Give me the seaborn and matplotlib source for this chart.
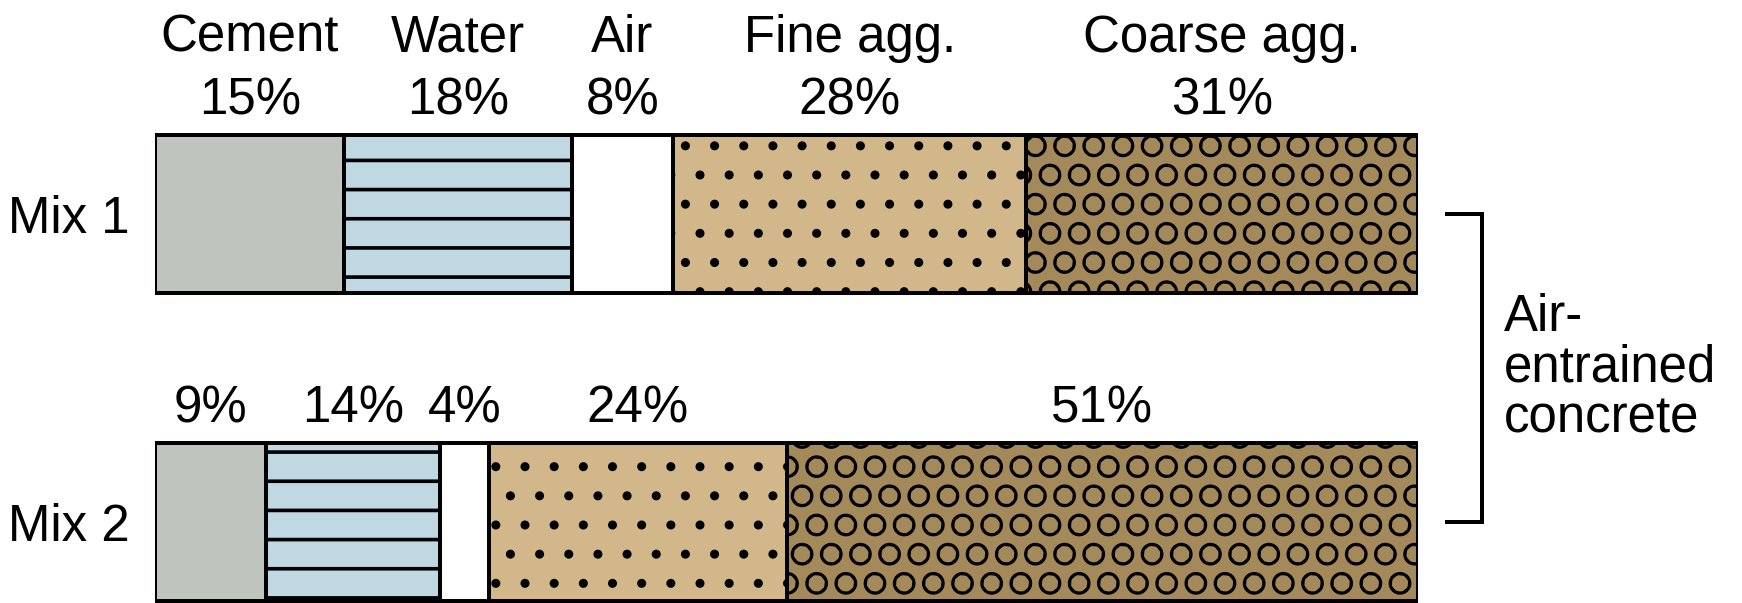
import numpy as np
import pandas as pd
import matplotlib
matplotlib.use("Agg")
import matplotlib.pyplot as plt
import seaborn as sns

# values
mixes = ["Mix 1", "Mix 2"]
components = ["Cement", "Water", "Air", "Fine agg.", "Coarse agg."]
mix1_pct = [15, 18, 8, 28, 31]
mix2_pct = [9, 14, 4, 24, 51]
side_label = "Air-\nentrained\nconcrete"

# look of each component
colors = ["#c0c4be", "#c0d8e2", "#ffffff", "#d2b78b", "#a4895a"]
hatches = [None, "-", None, ".", "O"]
hatch_lw = [1.0, 1.5, 1.0, 1.3, 0.95]

df = pd.DataFrame({
    "mix": np.repeat(mixes, len(components)),
    "component": components * len(mixes),
    "pct": mix1_pct + mix2_pct,
})
# each bar is drawn at full length, so scale each mix to 100
df["share"] = df["pct"] / df.groupby("mix")["pct"].transform("sum") * 100
df["cum"] = df.groupby("mix")["share"].cumsum()
df["mid"] = df["cum"] - df["share"] / 2

sns.set_theme(style="white")
plt.rcParams["font.family"] = ["Liberation Sans", "DejaVu Sans"]

DPI = 175
W, H = 1742, 603
PT = 72 / DPI  # points per pixel
FS = 51 * PT
LW = 4 * PT
fig = plt.figure(figsize=(W / DPI, H / DPI), dpi=DPI)
ax = fig.add_axes([155 / W, 0, (1418 - 155) / W, 1])

BAR_W = 0.513
# longest (cumulative) bar first, shorter ones on top
for i in reversed(range(len(components))):
    sub = df[df["component"] == components[i]]
    with plt.rc_context({"hatch.linewidth": hatch_lw[i], "hatch.color": "black"}):
        sns.barplot(data=sub, x="cum", y="mix", order=mixes, orient="h",
                    color=colors[i], saturation=1, width=BAR_W,
                    edgecolor="black", linewidth=LW, hatch=hatches[i],
                    errorbar=None, ax=ax)

ax.set_xlim(0, 100)
ax.set_ylim(1.263, -0.695)
ax.set_xticks([])
ax.set_xlabel("")
ax.set_ylabel("")
ax.tick_params(axis="y", length=0, pad=25 * PT, labelsize=FS, labelcolor="black")
sns.despine(ax=ax, left=True, bottom=True)

# percent labels above each segment, names above the first bar
top = -BAR_W / 2
for j, m in enumerate(mixes):
    sub = df[df["mix"] == m]
    for _, r in sub.iterrows():
        ax.text(r["mid"], j + top - 0.068, f"{r['pct']}%", ha="center",
                va="baseline", fontsize=FS, color="black")
first = df[df["mix"] == mixes[0]]
for _, r in first.iterrows():
    ax.text(r["mid"], top - 0.27, r["component"], ha="center",
            va="baseline", fontsize=FS, color="black")

# bracket joining both mixes
ax.plot([102.1, 105.1, 105.1, 102.1], [0, 0, 1, 1], color="black", lw=LW,
        clip_on=False, solid_joinstyle="miter", solid_capstyle="butt")
ax.text(106.8, 0.5, side_label, ha="left", va="center", fontsize=FS,
        linespacing=1.05, color="black")

fig.savefig("out.png", dpi=DPI, facecolor="white")
